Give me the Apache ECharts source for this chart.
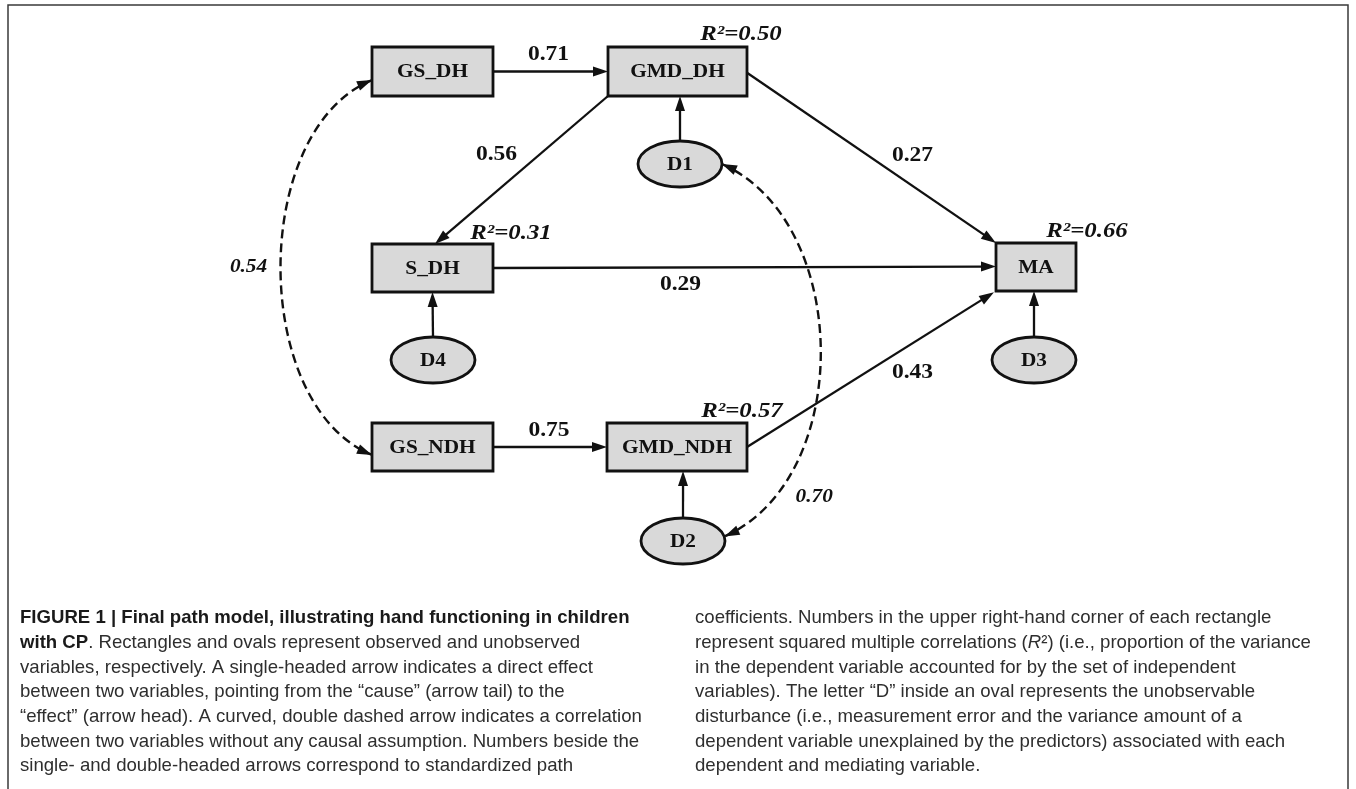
<!DOCTYPE html>
<html>
<head>
<meta charset="utf-8">
<script src="https://cdn.jsdelivr.net/npm/echarts@6/dist/echarts.min.js"></script>
<style>
html,body{margin:0;padding:0;background:#ffffff;}
#chart{width:1356px;height:789px;}
</style>
</head>
<body>
<div id="chart"></div>
<script>
// ---------------- DATA ----------------
const nodeNames = ['GS_DH', 'GMD_DH', 'S_DH', 'MA', 'GS_NDH', 'GMD_NDH', 'D1', 'D2', 'D3', 'D4'];
const nodeKinds = ['observed', 'observed', 'observed', 'observed', 'observed', 'observed',
                   'disturbance', 'disturbance', 'disturbance', 'disturbance'];
const r2Nodes = ['GMD_DH', 'S_DH', 'MA', 'GMD_NDH'];
const r2Values = [0.50, 0.31, 0.66, 0.57];
const pathFrom = ['GS_DH', 'GMD_DH', 'GMD_DH', 'S_DH', 'GS_NDH', 'GMD_NDH', 'D1', 'D4', 'D2', 'D3'];
const pathTo   = ['GMD_DH', 'S_DH', 'MA', 'MA', 'GMD_NDH', 'MA', 'GMD_DH', 'S_DH', 'GMD_NDH', 'MA'];
const pathCoef = [0.71, 0.56, 0.27, 0.29, 0.75, 0.43, null, null, null, null];
const corrFrom = ['GS_DH', 'D1'];
const corrTo   = ['GS_NDH', 'D2'];
const corrCoef = [0.54, 0.70];
const captionLeft = [
  '{b|FIGURE 1 | Final path model, illustrating hand functioning in children}',
  '{b|with CP}{n|. Rectangles and ovals represent observed and unobserved}',
  '{n|variables, respectively. A single-headed arrow indicates a direct effect}',
  '{n|between two variables, pointing from the \u201ccause\u201d (arrow tail) to the}',
  '{n|\u201ceffect\u201d (arrow head). A curved, double dashed arrow indicates a correlation}',
  '{n|between two variables without any causal assumption. Numbers beside the}',
  '{n|single- and double-headed arrows correspond to standardized path}'
];
const captionRight = [
  '{n|coefficients. Numbers in the upper right-hand corner of each rectangle}',
  '{n|represent squared multiple correlations (}{i|R}{n|\u00b2) (i.e., proportion of the variance}',
  '{n|in the dependent variable accounted for by the set of independent}',
  '{n|variables). The letter \u201cD\u201d inside an oval represents the unobservable}',
  '{n|disturbance (i.e., measurement error and the variance amount of a}',
  '{n|dependent variable unexplained by the predictors) associated with each}',
  '{n|dependent and mediating variable.}'
];

// ---------------- LAYOUT (positions / sizes, separate from data) ----------------
const layout = {
  nodes: {
    GS_DH:   { x: 432.5, y: 71.5, w: 121, h: 49 },
    GMD_DH:  { x: 677.5, y: 71.5, w: 139, h: 49 },
    S_DH:    { x: 432.5, y: 268,  w: 121, h: 48 },
    MA:      { x: 1036,  y: 267,  w: 80,  h: 48 },
    GS_NDH:  { x: 432.5, y: 447,  w: 121, h: 48 },
    GMD_NDH: { x: 677,   y: 447,  w: 140, h: 48 },
    D1:      { x: 680,   y: 164,  w: 84,  h: 46 },
    D2:      { x: 683,   y: 541,  w: 84,  h: 46 },
    D3:      { x: 1034,  y: 360,  w: 84,  h: 46 },
    D4:      { x: 433,   y: 360,  w: 84,  h: 46 }
  },
  r2Offset: {            // offset of the R² label centre from the node's top-right corner
    GMD_DH: [-6, -12], S_DH: [18, -10], MA: [11, -11], GMD_NDH: [-5, -11]
  },
  paths: [               // anchors in node-relative units (-1..1), label offset from midpoint
    { from: [1, 0],    to: [-1, 0],        label: [-2, -17] },
    { from: [-1, 1],   to: [0.04, -1],     label: [-25, -15] },
    { from: [1, 0.05], to: [-1, -1],       label: [41, -2] },
    { from: [1, 0],    to: [-1, -0.02],    label: [-64, 17] },
    { from: [1, 0],    to: [-1, 0],        label: [-1, -16] },
    { from: [1, 0],    to: [-1.05, 1.05],  label: [42, 3] },
    { from: [0, -1],   to: [0.036, 1] },
    { from: [0, -1],   to: [0, 1] },
    { from: [0, -1],   to: [0.086, 1] },
    { from: [0, -1],   to: [-0.05, 1] }
  ],
  corrs: [
    { from: [-1, 0.35], to: [-1, 0.33], c1: [-122, 50], c2: [-122, -50], labelT: 0.5,  label: [-32, 0] },
    { from: [1, 0],     to: [0.99, -0.2], c1: [130, 58],  c2: [130, -58],  labelT: 0.85, label: [40, -1] }
  ]
};

const DIAGRAM_FONT = "'Liberation Serif', 'Times New Roman', serif";
const CAPTION_FONT = "'Liberation Sans', Arial, sans-serif";
const INK = '#111111';
const BOX_FILL = '#d9d9d9';
const ARROW_LEN = 15, ARROW_HALF = 5;

function anchorPoint(name, a) {
  const n = layout.nodes[name];
  return [n.x + a[0] * n.w / 2, n.y + a[1] * n.h / 2];
}
function arrowHead(tip, ux, uy) {
  const bx = tip[0] - ux * ARROW_LEN, by = tip[1] - uy * ARROW_LEN;
  return [[tip[0], tip[1]], [bx - uy * ARROW_HALF, by + ux * ARROW_HALF], [bx + uy * ARROW_HALF, by - ux * ARROW_HALF]];
}
function diagramText(x, y, text, size, italic, sx) {
  return {
    type: 'text', x: x, y: y, scaleX: sx || 1.12, z2: 20,
    style: {
      text: text, x: 0, y: 0, fill: INK,
      font: (italic ? 'italic ' : '') + 'bold ' + size + 'px ' + DIAGRAM_FONT,
      align: 'center', verticalAlign: 'middle'
    }
  };
}
function bez(p0, p1, p2, p3, t) {
  const m = 1 - t;
  return [
    m * m * m * p0[0] + 3 * m * m * t * p1[0] + 3 * m * t * t * p2[0] + t * t * t * p3[0],
    m * m * m * p0[1] + 3 * m * m * t * p1[1] + 3 * m * t * t * p2[1] + t * t * t * p3[1]
  ];
}

const chart = echarts.init(document.getElementById('chart'), null, { renderer: 'canvas' });

const option = {
  animation: false,
  backgroundColor: '#ffffff',
  grid: { left: 0, right: 0, top: 0, bottom: 0 },
  xAxis: { type: 'value', min: 0, max: 1356, show: false },
  yAxis: { type: 'value', min: 0, max: 789, inverse: true, show: false },
  series: [
    {
      name: 'correlations', type: 'custom', coordinateSystem: 'cartesian2d', silent: true, z: 1,
      data: corrFrom.map((_, i) => [i, i]),
      renderItem: function (params, api) {
        const i = params.dataIndex;
        const L = layout.corrs[i];
        const a = anchorPoint(corrFrom[i], L.from);
        const b = anchorPoint(corrTo[i], L.to);
        const c1 = [a[0] + L.c1[0], a[1] + L.c1[1]];
        const c2 = [b[0] + L.c2[0], b[1] + L.c2[1]];
        const P0 = api.coord(a), P3 = api.coord(b), P1 = api.coord(c1), P2 = api.coord(c2);
        let dx = P0[0] - P1[0], dy = P0[1] - P1[1], len = Math.hypot(dx, dy);
        const h0 = arrowHead(P0, dx / len, dy / len);
        dx = P3[0] - P2[0]; dy = P3[1] - P2[1]; len = Math.hypot(dx, dy);
        const h1 = arrowHead(P3, dx / len, dy / len);
        const lp = bez(a, c1, c2, b, L.labelT);
        const lpc = api.coord([lp[0] + L.label[0], lp[1] + L.label[1]]);
        return {
          type: 'group',
          children: [
            { type: 'bezierCurve',
              shape: { x1: P0[0], y1: P0[1], cpx1: P1[0], cpy1: P1[1], cpx2: P2[0], cpy2: P2[1], x2: P3[0], y2: P3[1] },
              style: { stroke: INK, lineWidth: 2.4, fill: 'none', lineDash: [9, 5] } },
            { type: 'polygon', shape: { points: h0 }, style: { fill: INK } },
            { type: 'polygon', shape: { points: h1 }, style: { fill: INK } },
            diagramText(lpc[0], lpc[1], corrCoef[i].toFixed(2), 19, true)
          ]
        };
      }
    },
    {
      name: 'paths', type: 'custom', coordinateSystem: 'cartesian2d', silent: true, z: 2,
      data: pathFrom.map((_, i) => [i, i]),
      renderItem: function (params, api) {
        const i = params.dataIndex;
        const L = layout.paths[i];
        const a = anchorPoint(pathFrom[i], L.from);
        const b = anchorPoint(pathTo[i], L.to);
        const pa = api.coord(a), pb = api.coord(b);
        const dx = pb[0] - pa[0], dy = pb[1] - pa[1], len = Math.hypot(dx, dy);
        const ux = dx / len, uy = dy / len;
        const end = [pb[0] - ux * (ARROW_LEN - 2), pb[1] - uy * (ARROW_LEN - 2)];
        const children = [
          { type: 'line', shape: { x1: pa[0], y1: pa[1], x2: end[0], y2: end[1] },
            style: { stroke: INK, lineWidth: 2.3 } },
          { type: 'polygon', shape: { points: arrowHead(pb, ux, uy) }, style: { fill: INK } }
        ];
        if (pathCoef[i] != null) {
          const m = [(a[0] + b[0]) / 2 + L.label[0], (a[1] + b[1]) / 2 + L.label[1]];
          const mc = api.coord(m);
          children.push(diagramText(mc[0], mc[1], pathCoef[i].toFixed(2), 21, false));
        }
        return { type: 'group', children: children };
      }
    },
    {
      name: 'variables', type: 'custom', coordinateSystem: 'cartesian2d', silent: true, z: 3,
      data: nodeNames.map((_, i) => [i, i]),
      renderItem: function (params, api) {
        const i = params.dataIndex;
        const name = nodeNames[i];
        const n = layout.nodes[name];
        const c = api.coord([n.x, n.y]);
        const tl = api.coord([n.x - n.w / 2, n.y - n.h / 2]);
        const br = api.coord([n.x + n.w / 2, n.y + n.h / 2]);
        const w = Math.abs(br[0] - tl[0]), h = Math.abs(br[1] - tl[1]);
        const style = { fill: BOX_FILL, stroke: INK, lineWidth: 2.8 };
        const shapeEl = nodeKinds[i] === 'observed'
          ? { type: 'rect', shape: { x: Math.min(tl[0], br[0]), y: Math.min(tl[1], br[1]), width: w, height: h }, style: style }
          : { type: 'ellipse', shape: { cx: c[0], cy: c[1], rx: w / 2, ry: h / 2 }, style: style };
        const children = [shapeEl, diagramText(c[0], c[1] + 1, name, 19, false)];
        const r = r2Nodes.indexOf(name);
        if (r >= 0) {
          const off = layout.r2Offset[name];
          const p = api.coord([n.x + n.w / 2 + off[0], n.y - n.h / 2 + off[1]]);
          children.push(diagramText(p[0], p[1], 'R\u00b2=' + r2Values[r].toFixed(2), 21, true, 1.18));
        }
        return { type: 'group', children: children };
      }
    }
  ],
  graphic: (function () {
    const els = [{
      type: 'rect', silent: true, z: 0,
      shape: { x: 8, y: 5, width: 1340, height: 800 },
      style: { fill: 'none', stroke: '#3a3a3a', lineWidth: 1.5 }
    }];
    const FS = 18.6;
    const rich = {
      b: { fontFamily: CAPTION_FONT, fontWeight: 'bold', fontSize: FS, fill: '#1a1a1a' },
      n: { fontFamily: CAPTION_FONT, fontSize: FS, fill: '#2e2e2e' },
      i: { fontFamily: CAPTION_FONT, fontStyle: 'italic', fontSize: FS, fill: '#2e2e2e' }
    };
    const addCol = (lines, x) => lines.forEach((t, k) => {
      els.push({
        type: 'text', silent: true, z: 10, x: x, y: 618 + k * 24.7,
        style: { text: t, rich: rich, x: 0, y: 0, align: 'left', verticalAlign: 'middle' }
      });
    });
    addCol(captionLeft, 20);
    addCol(captionRight, 695);
    return els;
  })()
};

chart.setOption(option);
</script>
</body>
</html>
